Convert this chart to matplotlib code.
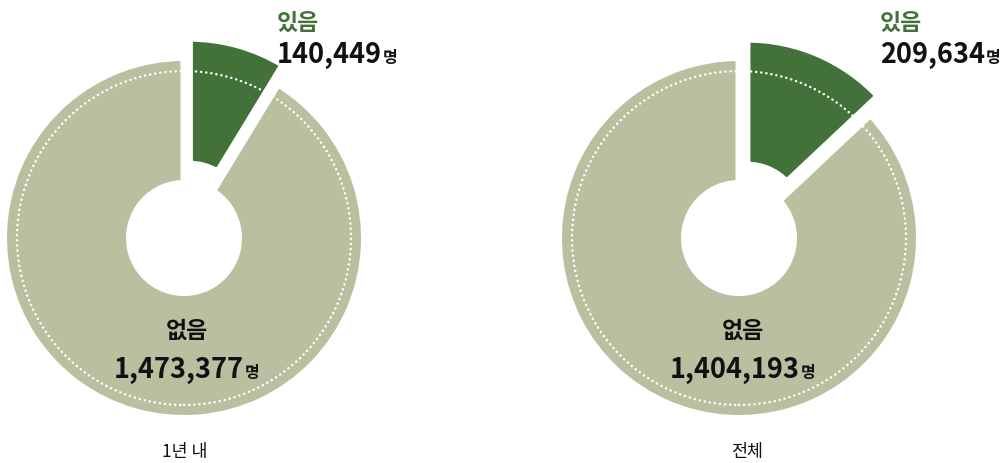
import matplotlib
matplotlib.use("Agg")
import matplotlib.pyplot as plt
from matplotlib.patches import Circle

# ---- data ----
categories = ["1년 내", "전체"]
slice_labels = ["있음", "없음"]
yes_values = [140449, 209634]
no_values = [1473377, 1404193]

# ---- style ----
GREEN = "#42723a"
GRAY = "#b9c09f"
FONT = ["Noto Sans CJK KR", "DejaVu Sans"]
plt.rcParams["font.family"] = FONT

W, H = 1007, 464
fig = plt.figure(figsize=(W / 100, H / 100), dpi=100)
ax = fig.add_axes([0, 0, 1, 1])

centers_px = [(184, 239), (739, 239)]
R = 180.5
width = 126
edge_px = 7
lw_pt = edge_px * 72 / 100
explode_px = 20

for i in range(2):
    cx, cy = centers_px[i][0], H - centers_px[i][1]
    ax.pie([yes_values[i], no_values[i]], colors=[GREEN, GRAY],
           startangle=90, counterclock=False, radius=R, center=(cx, cy),
           explode=[explode_px, 0], frame=False,
           wedgeprops=dict(width=width, edgecolor="white", linewidth=lw_pt))
    ax.add_patch(Circle((cx, cy), 167, fill=False, edgecolor="white",
                        linewidth=1.8, linestyle=(0, (0.05, 2.0)),
                        capstyle="round", zorder=5))

ax.set_xlim(0, W)
ax.set_ylim(0, H)
ax.set_aspect("auto")
ax.axis("off")

def fmt(v):
    return f"{v:,}"

fig.canvas.draw()
renderer = fig.canvas.get_renderer()

def px_width(t):
    bb = t.get_window_extent(renderer=renderer)
    return bb.width

def number_with_unit(x, y_base, value, align):
    # y_base: pixel baseline (top-origin)
    t1 = ax.text(0, H - y_base, fmt(value), fontsize=19.5, fontweight="bold",
                 color="#111111", ha="left", va="baseline")
    t2 = ax.text(0, H - y_base, "명", fontsize=11.5, fontweight="bold",
                 color="#111111", ha="left", va="baseline")
    w1 = px_width(t1)
    w2 = px_width(t2)
    gap = 1
    if align == "left":
        x0 = x
    else:
        x0 = x - (w1 + gap + w2) / 2
    t1.set_x(x0)
    t2.set_x(x0 + w1 + gap)

# top labels (있음)
top_label_x = [277, 880]
for i in range(2):
    ax.text(top_label_x[i], H - 30, slice_labels[0], fontsize=16.5,
            fontweight="bold", color=GREEN, ha="left", va="baseline")
    number_with_unit(top_label_x[i], 63, yes_values[i], "left")

# inner labels (없음)
inner_x = [187, 743]
for i in range(2):
    ax.text(inner_x[i], H - 331, slice_labels[1], fontsize=16.5,
            fontweight="bold", color="#111111", ha="center", va="center")
    number_with_unit(inner_x[i], 378, no_values[i], "center")

# category labels
cat_x = [185, 747]
for i in range(2):
    ax.text(cat_x[i], H - 452, categories[i], fontsize=12.5, color="#111111",
            ha="center", va="center")

fig.savefig("out.png", dpi=100)
